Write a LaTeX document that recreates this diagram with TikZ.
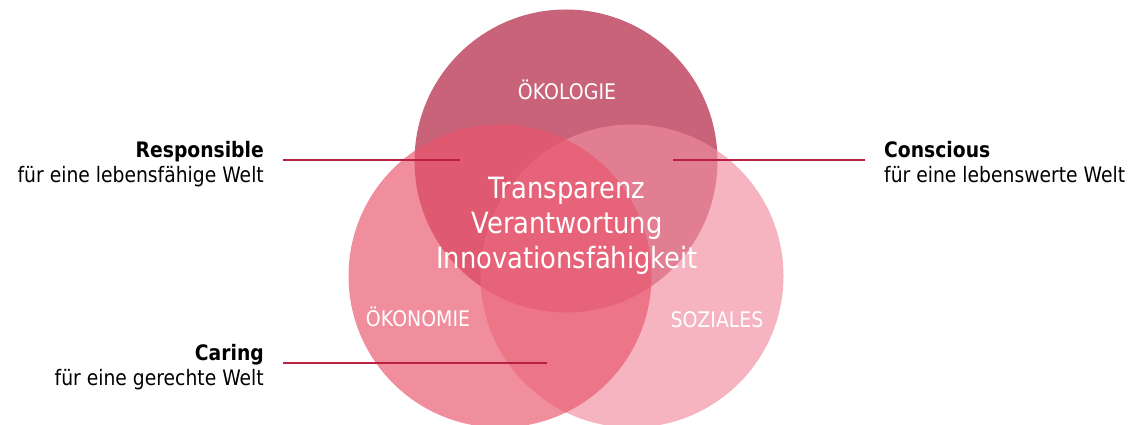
\documentclass[tikz,border=0pt]{standalone}
\usepackage{fontspec}
\setmainfont{DejaVu Sans}[FakeStretch=0.88]
\begin{document}
\begin{tikzpicture}[x=1pt,y=1pt,
 ring/.style={draw=none,fill opacity=#1},
 rule/.style={draw=linered,line width=1.4pt},
 sector/.style={text=white,inner sep=0pt,font=\fontsize{21.5}{24}\selectfont},
 side/.style={inner sep=0pt,text=black,font=\fontsize{21.3}{25}\selectfont}]
 \definecolor{toprose}{RGB}{201,99,122}
 \definecolor{rightrose}{RGB}{240,141,158}
 \definecolor{leftrose}{RGB}{234,86,110}
 \definecolor{linered}{RGB}{186,32,64}
 \useasboundingbox (0,0) rectangle (1129,425);
 \fill [toprose,ring=1] (566,264) circle (151.5);
 \fill [rightrose,ring=0.66] (632,149) circle (151.5);
 \fill [leftrose,ring=0.67] (500,149) circle (151.5);
 \node [sector,anchor=base] (oeko) at (567,325) {ÖKOLOGIE};
 \node [sector,anchor=base] (econ) at (418,98) {ÖKONOMIE};
 \node [sector,anchor=base] (soz) at (717,97) {SOZIALES};
 \node [text=white,inner sep=0pt,align=center,font=\fontsize{29.3}{35}\selectfont] (core) at (567,199) {Transparenz\\Verantwortung\\Innovationsfähigkeit};
 \node [side,align=right,anchor=north east] (resp) at (264,284) {\textbf{Responsible}\\für eine lebensfähige Welt};
 \node [side,align=left,anchor=north west] (consc) at (884,284) {\textbf{Conscious}\\für eine lebenswerte Welt};
 \node [side,align=right,anchor=north east] (car) at (264,81) {\textbf{Caring}\\für eine gerechte Welt};
 \coordinate (resp a) at (283,265);
 \coordinate (resp b) at (460,265);
 \coordinate (consc a) at (865,265);
 \coordinate (consc b) at (673,265);
 \coordinate (car a) at (283,62);
 \coordinate (car b) at (547,62);
 \draw [rule] (resp a) -- (resp b);
 \draw [rule] (consc a) -- (consc b);
 \draw [rule] (car a) -- (car b);
\end{tikzpicture}
\end{document}
